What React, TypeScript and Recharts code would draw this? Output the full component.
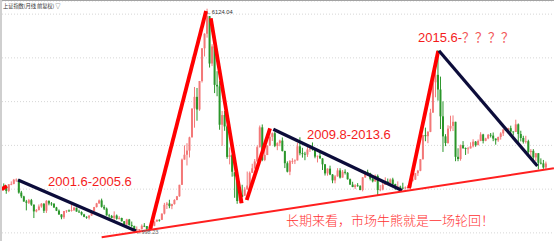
import React from 'react';
import { ComposedChart, Bar, XAxis, YAxis, CartesianGrid, ReferenceLine } from 'recharts';

// Shanghai Composite, monthly candles, 2001.1 - 2019.1
const startYear = 2001;

const opens: number[] = [
  2073, 2065, 1959, 2112, 2119, 2214, 2218, 1921, 1834, 1717, 1689, 1747, // 2001
  1646, 1491, 1524, 1603, 1667, 1505, 1733, 1671, 1670, 1581, 1507, 1422, // 2002
  1357, 1499, 1512, 1511, 1521, 1576, 1487, 1476, 1421, 1367, 1348, 1397, // 2003
  1497, 1590, 1675, 1742, 1595, 1555, 1399, 1386, 1342, 1396, 1320, 1340, // 2004
  1266, 1191, 1306, 1181, 1159, 1060, 1080, 1083, 1162, 1155, 1092, 1099, // 2005
  1161, 1258, 1299, 1298, 1440, 1641, 1672, 1612, 1658, 1752, 1837, 2099, // 2006
  2675, 2786, 2881, 3183, 3841, 4109, 3820, 4471, 5219, 5552, 5954, 4871, // 2007
  5261, 4383, 4348, 3472, 3693, 3433, 2736, 2775, 2384, 2293, 1728, 1871, // 2008
  1850, 1991, 2082, 2373, 2477, 2632, 2959, 3412, 2667, 2779, 2995, 3195, // 2009
  3277, 2989, 3051, 3109, 2870, 2592, 2398, 2638, 2638, 2656, 2979, 2820, // 2010
  2808, 2790, 2905, 2928, 2911, 2743, 2762, 2701, 2567, 2359, 2468, 2333, // 2011
  2199, 2292, 2428, 2263, 2397, 2373, 2226, 2103, 2047, 2086, 2069, 1980, // 2012
  2269, 2385, 2366, 2237, 2178, 2301, 1979, 1994, 2098, 2175, 2141, 2220, // 2013
  2116, 2033, 2056, 2033, 2026, 2039, 2048, 2201, 2217, 2364, 2420, 2683, // 2014
  3235, 3210, 3310, 3748, 4441, 4612, 4277, 3664, 3206, 3053, 3383, 3445, // 2015
  3539, 2738, 2688, 3004, 2938, 2917, 2930, 2979, 3085, 3005, 3100, 3250, // 2016
  3104, 3159, 3242, 3223, 3155, 3117, 3192, 3273, 3361, 3349, 3393, 3317, // 2017
  3307, 3481, 3259, 3169, 3082, 3095, 2847, 2876, 2725, 2821, 2603, 2588, // 2018
  2494, // 2019
];

const highs: number[] = [
  2131, 2085, 2113, 2177, 2233, 2245, 2220, 1960, 1848, 1754, 1776, 1776,
  1646, 1545, 1650, 1680, 1678, 1748, 1740, 1705, 1670, 1595, 1535, 1425,
  1501, 1520, 1535, 1649, 1596, 1577, 1530, 1493, 1436, 1380, 1398, 1498,
  1594, 1686, 1762, 1783, 1641, 1580, 1435, 1410, 1492, 1420, 1380, 1348,
  1270, 1321, 1319, 1259, 1163, 1147, 1088, 1194, 1223, 1157, 1112, 1178,
  1263, 1305, 1308, 1445, 1686, 1708, 1757, 1666, 1769, 1844, 2099, 2698,
  3000, 3050, 3198, 3846, 4335, 4312, 4472, 5219, 5562, 6124, 5955, 5312,
  5522, 4695, 4473, 3786, 3786, 3459, 2952, 2800, 2384, 2293, 2051, 2100,
  2044, 2402, 2404, 2580, 2688, 3000, 3454, 3478, 3069, 3000, 3361, 3296,
  3307, 3071, 3130, 3181, 2878, 2634, 2663, 2706, 2680, 3060, 3186, 2944,
  2853, 2969, 3011, 3067, 2931, 2767, 2827, 2706, 2575, 2475, 2536, 2343,
  2321, 2479, 2478, 2437, 2453, 2389, 2241, 2168, 2114, 2137, 2090, 2276,
  2413, 2445, 2375, 2267, 2335, 2334, 2092, 2149, 2270, 2242, 2244, 2260,
  2123, 2177, 2079, 2146, 2062, 2087, 2201, 2248, 2369, 2440, 2688, 3239,
  3406, 3324, 3836, 4572, 4986, 5178, 4572, 4006, 3256, 3459, 3678, 3685,
  3539, 2934, 3019, 3097, 2952, 2966, 3070, 3140, 3100, 3134, 3301, 3264,
  3174, 3260, 3283, 3295, 3159, 3200, 3302, 3377, 3391, 3403, 3451, 3320,
  3587, 3501, 3335, 3220, 3219, 3129, 2916, 2915, 2827, 2821, 2703, 2667,
  2630,
];

const lows: number[] = [
  1999, 1894, 1930, 2089, 2110, 2165, 1896, 1794, 1712, 1514, 1660, 1618,
  1339, 1469, 1510, 1575, 1455, 1456, 1630, 1620, 1570, 1498, 1411, 1311,
  1319, 1459, 1480, 1487, 1500, 1484, 1456, 1398, 1358, 1322, 1307, 1390,
  1496, 1580, 1663, 1577, 1523, 1396, 1343, 1331, 1260, 1301, 1306, 1259,
  1177, 1183, 1164, 1135, 1044, 998, 1004, 1078, 1132, 1067, 1074, 1094,
  1152, 1258, 1258, 1298, 1422, 1546, 1563, 1541, 1646, 1745, 1826, 2094,
  2674, 2541, 2723, 3183, 3404, 3563, 3790, 4437, 5032, 5462, 4779, 4812,
  4195, 4123, 3357, 2990, 3333, 2693, 2566, 2284, 1802, 1665, 1679, 1815,
  1844, 1990, 2038, 2372, 2466, 2630, 2950, 2639, 2639, 2779, 2990, 3100,
  2960, 2890, 2980, 2861, 2481, 2382, 2319, 2576, 2573, 2656, 2773, 2720,
  2661, 2735, 2850, 2880, 2705, 2610, 2698, 2437, 2311, 2307, 2319, 2135,
  2132, 2284, 2242, 2263, 2334, 2217, 2099, 2046, 2001, 2054, 1974, 1949,
  2255, 2310, 2200, 2154, 2165, 1849, 1951, 1972, 2095, 2123, 2124, 2088,
  1984, 2023, 1975, 1997, 1991, 2010, 2042, 2175, 2210, 2301, 2409, 2677,
  3095, 3050, 3302, 3748, 4099, 4023, 3373, 2850, 2983, 3039, 3322, 3328,
  2638, 2638, 2650, 2920, 2781, 2808, 2929, 2953, 2969, 3003, 3096, 3044,
  3095, 3140, 3180, 3096, 3016, 3081, 3132, 3214, 3331, 3338, 3250, 3226,
  3307, 3063, 3091, 3041, 3042, 2782, 2691, 2653, 2644, 2449, 2565, 2463,
  2440,
];

const closes: number[] = [
  2065, 1959, 2112, 2119, 2214, 2218, 1921, 1834, 1717, 1689, 1747, 1646,
  1491, 1524, 1603, 1667, 1505, 1733, 1671, 1670, 1581, 1507, 1422, 1357,
  1499, 1512, 1511, 1521, 1576, 1487, 1476, 1421, 1367, 1348, 1397, 1497,
  1590, 1675, 1742, 1595, 1555, 1399, 1386, 1342, 1396, 1320, 1340, 1266,
  1191, 1306, 1181, 1159, 1060, 1080, 1083, 1162, 1155, 1092, 1099, 1161,
  1258, 1299, 1298, 1440, 1641, 1672, 1612, 1658, 1752, 1837, 2099, 2675,
  2786, 2881, 3183, 3841, 4109, 3820, 4471, 5219, 5552, 5954, 4871, 5261,
  4383, 4348, 3472, 3693, 3433, 2736, 2775, 2397, 2293, 1728, 1871, 1821,
  1991, 2082, 2373, 2477, 2632, 2959, 3412, 2667, 2779, 2995, 3195, 3277,
  2989, 3051, 3109, 2870, 2592, 2398, 2638, 2638, 2656, 2979, 2820, 2808,
  2790, 2905, 2928, 2911, 2743, 2762, 2701, 2567, 2359, 2468, 2333, 2199,
  2292, 2428, 2263, 2397, 2373, 2226, 2103, 2047, 2086, 2069, 1980, 2269,
  2385, 2366, 2237, 2178, 2301, 1979, 1994, 2098, 2175, 2141, 2220, 2116,
  2033, 2056, 2033, 2026, 2039, 2048, 2201, 2217, 2364, 2420, 2683, 3235,
  3210, 3310, 3748, 4441, 4612, 4277, 3664, 3206, 3053, 3383, 3445, 3539,
  2738, 2688, 3004, 2938, 2917, 2930, 2979, 3085, 3005, 3100, 3250, 3104,
  3159, 3242, 3223, 3155, 3117, 3192, 3273, 3361, 3349, 3393, 3317, 3307,
  3481, 3259, 3169, 3082, 3095, 2847, 2876, 2725, 2821, 2603, 2588, 2494,
  2585,
];

const months: string[] = opens.map((_, i) => `${startYear + Math.floor(i / 12)}.${(i % 12) + 1}`);

const gridTicks: number[] = [1000, 1500, 2000, 2500, 3000, 3500, 4000, 4500, 5000, 5500, 6000];

// hand-drawn trend lines: [month index, price] -> [month index, price]
const trendLines = [
  { kind: 'up', x1: -0.9, y1: 1996, x2: 1.1, y2: 2071 },
  { kind: 'down', x1: 5.6, y1: 2209, x2: 52.6, y2: 1043 },
  { kind: 'up', x1: 58.2, y1: 1089, x2: 80.5, y2: 6071 },
  { kind: 'up', x1: 82.4, y1: 5905, x2: 94.7, y2: 1676 },
  { kind: 'up', x1: 96.7, y1: 1751, x2: 106.0, y2: 3390 },
  { kind: 'down', x1: 107.3, y1: 3367, x2: 158.6, y2: 1969 },
  { kind: 'up', x1: 161.4, y1: 2019, x2: 173.0, y2: 5157 },
  { kind: 'down', x1: 173.3, y1: 5164, x2: 212.5, y2: 2529 },
  { kind: 'base', x1: 38.9, y1: 899, x2: 219.1, y2: 2476 },
];

const lineStyle: Record<string, { stroke: string; width: number }> = {
  up: { stroke: '#ff0000', width: 3.8 },
  down: { stroke: '#0c0c3a', width: 3.2 },
  base: { stroke: '#ff1f1f', width: 2 },
};

const data = months.map((m, i) => ({
  m,
  i,
  o: opens[i],
  h: highs[i],
  l: lows[i],
  c: closes[i],
  range: [lows[i], highs[i]],
}));

const UP = '#f37878';
const DOWN = '#2a962a';

const Candle = (props: any) => {
  const { x, y, width, height, payload } = props;
  if (!payload || x == null || y == null) return null;
  const { o, h, l, c } = payload;
  const top = Math.min(y, y + height);
  const hh = Math.abs(height);
  const span = h - l || 1;
  const py = (v: number) => top + ((h - v) / span) * hh;
  const up = c >= o;
  const color = up ? UP : DOWN;
  const cx = x + width / 2;
  const bTop = py(Math.max(o, c));
  const bBot = py(Math.min(o, c));
  return (
    <g>
      <line x1={cx} x2={cx} y1={top} y2={top + hh} stroke={color} strokeWidth={1} />
      <rect x={cx - 1} y={bTop} width={2} height={Math.max(bBot - bTop, 0.8)} fill={color} />
    </g>
  );
};

const red = '#f41c1c';
const big = { fontFamily: "'Liberation Sans', Arial, 'Noto Sans CJK SC', sans-serif", fontSize: 13 };

export default function App() {
  return (
    <div style={{ position: 'fixed', left: 0, top: 0, width: 554, height: 241, overflow: 'hidden', background: '#fff' }}>
      <ComposedChart width={554} height={246} data={data} margin={{ top: 1, right: 0, bottom: 0, left: 2 }}>
        <CartesianGrid vertical={false} stroke="#d6d6d6" strokeDasharray="1 2" />
        <XAxis dataKey="m" hide padding={{ left: 0.745, right: 6.6 }} />
        <XAxis
          xAxisId="n"
          type="number"
          dataKey="i"
          hide
          domain={[-0.5, 216.5]}
          allowDataOverflow
          padding={{ left: 0.745, right: 6.6 }}
        />
        <YAxis hide domain={[700, 6300]} ticks={gridTicks} allowDataOverflow />
        <Bar dataKey="range" shape={<Candle />} barSize={2} isAnimationActive={false} />
        {trendLines.map((t, k) => (
          <ReferenceLine
            key={k}
            xAxisId="n"
            segment={[
              { x: t.x1, y: t.y1 },
              { x: t.x2, y: t.y2 },
            ]}
            stroke={lineStyle[t.kind].stroke}
            strokeWidth={lineStyle[t.kind].width}
            ifOverflow="visible"
          />
        ))}
      </ComposedChart>
      <svg width={554} height={241} style={{ position: 'absolute', left: 0, top: 0, pointerEvents: 'none' }}>
        <rect x={0} y={0} width={554} height={1} fill="#a3a3a3" />
        <rect x={0} y={0} width={2} height={241} fill="#cfcfcf" />
        <text x={3} y={8} fontSize={5.3} letterSpacing={-0.1} fill="#333" fontFamily="'Noto Sans CJK SC', sans-serif">
          上证指数(月线 前复权) ▽
        </text>
        <text x={206} y={14} fontSize={5.8} fill="#333" fontFamily="'Liberation Sans', sans-serif">
          ←6124.04
        </text>
        <text x={136} y={233.5} fontSize={5.5} fill="#666" fontFamily="'Liberation Sans', sans-serif">
          ←998.23
        </text>
        <text x={48} y={185.5} fill={red} style={big}>
          2001.6-2005.6
        </text>
        <text x={307} y={138.6} fill={red} style={big}>
          2009.8-2013.6
        </text>
        <text x={418} y={41.7} fill={red} style={big}>
          2015.6-<tspan fill="#f25a5a">？？？？</tspan>
        </text>
        <text x={286} y={225} fill="#ff3030" fontSize={13} fontFamily="'Noto Sans CJK SC', sans-serif" fontWeight={300}>
          长期来看，市场牛熊就是一场轮回！
        </text>
      </svg>
    </div>
  );
}
